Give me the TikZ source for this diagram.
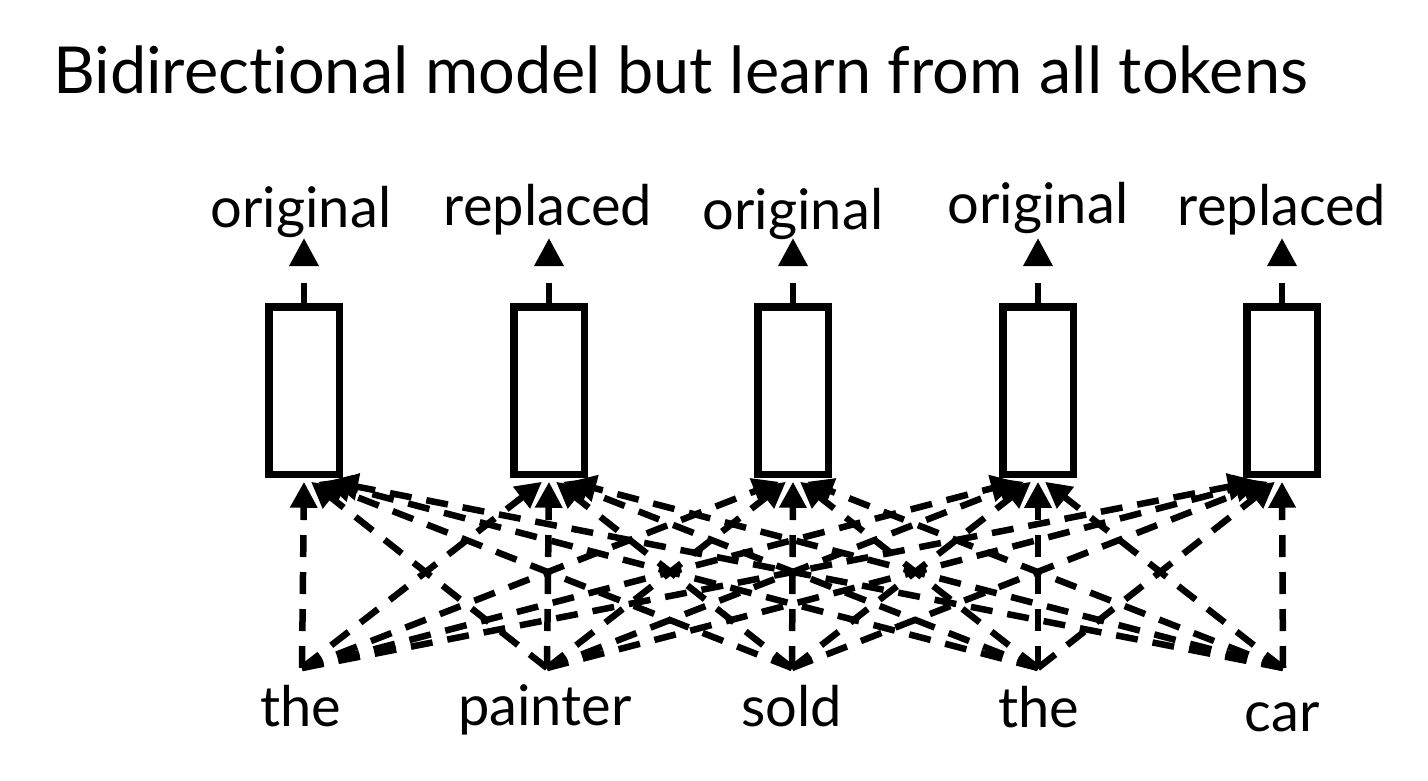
\documentclass[tikz,border=0pt]{standalone}
\usepackage{fontspec}
\setmainfont[Ligatures=NoCommon]{Lato}
\usetikzlibrary{arrows.meta}
\begin{document}
\begin{tikzpicture}[x=1pt,y=-1pt]
\useasboundingbox[fill=white] (0,0) rectangle (1428,780);
\tikzset{
  blk/.style={draw, line width=7.5pt, minimum width=70.5pt, minimum height=167.5pt, inner sep=0pt},
  ttl/.style={anchor=base west, inner sep=0pt, font=\fontsize{64.8}{70}\selectfont},
  lbl/.style={anchor=base, inner sep=0pt, font=\fontsize{56}{60}\selectfont},
  conn/.style={line width=6.5pt, dash pattern=on 22pt off 15pt, -{Triangle[length=26pt,width=26pt]}},
  outc/.style={line width=6.5pt, dash pattern=on 20pt off 18pt, -{Triangle[length=28pt,width=28pt]}},
}
\node[ttl] (title) at (53,93) {Bidirectional model but learn from all tokens};
% boxes
\foreach \i/\x in {1/304,2/549,3/793,4/1038,5/1282}{
  \node[blk] (b\i) at (\x,390.5) {};
}
% output labels
\node[lbl] (o1) at (301,227) {original};
\node[lbl] (o2) at (548,225) {replaced};
\node[lbl] (o3) at (793,229) {original};
\node[lbl] (o4) at (1038,223) {original};
\node[lbl] (o5) at (1282,225) {replaced};
% arrow tips above boxes
\foreach \i/\x in {1/304,2/549,3/793,4/1038,5/1282}{
  \coordinate (a\i) at (\x,238);
  \draw[outc] (b\i.north) -- (a\i);
}
% input tokens
\node[lbl] (t1) at (301,726) {the};
\node[lbl] (t2) at (545,725) {painter};
\node[lbl] (t3) at (792,726) {sold};
\node[lbl] (t4) at (1039,727) {the};
\node[lbl] (t5) at (1282,731) {car};
\foreach \j/\x in {1/302,2/547,3/792,4/1038,5/1283}{
  \coordinate (p\j) at (\x,668);
}
% all-to-all connectors
\foreach \i in {1,...,5}{
  \foreach \j in {1,...,5}{
    \pgfmathsetmacro{\off}{7*(\j-\i)}
    \draw[conn] (p\j) -- ([xshift=\off pt, yshift=-3.75pt]b\i.south);
  }
}
\end{tikzpicture}
\end{document}
